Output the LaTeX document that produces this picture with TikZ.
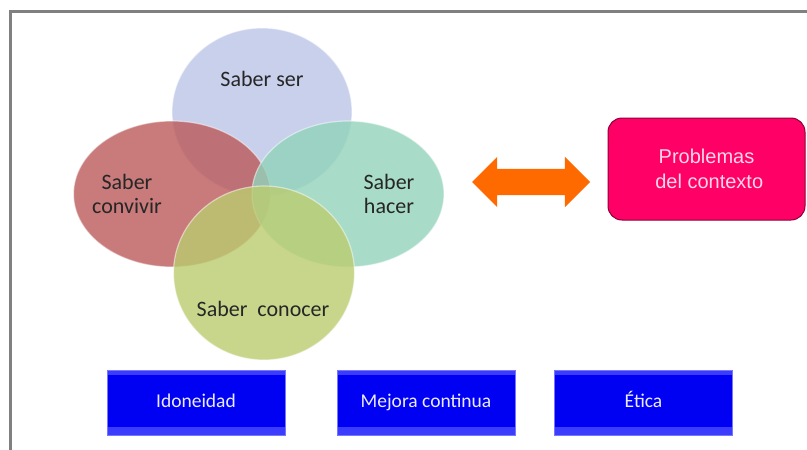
\documentclass[tikz,border=0pt]{standalone}
\usepackage{fontspec}
\setmainfont{Carlito}
\newfontfamily\arialfont{Liberation Sans}
\usetikzlibrary{shapes.geometric,shapes.arrows}
\definecolor{framegray}{RGB}{128,128,128}
\definecolor{serblue}{RGB}{186,196,231}
\definecolor{convivred}{RGB}{187,89,89}
\definecolor{haceteal}{RGB}{146,211,186}
\definecolor{conocergreen}{RGB}{186,204,111}
\definecolor{arroworange}{RGB}{255,106,0}
\definecolor{problempink}{RGB}{255,0,102}
\definecolor{problemtext}{RGB}{255,215,230}
\definecolor{boxblue}{RGB}{0,0,242}
\definecolor{boxbevel}{RGB}{60,60,255}
\begin{document}
\begin{tikzpicture}[x=1pt, y=-1pt, node distance = 230pt, auto,
    venn/.style = {ellipse, fill opacity=0.8, draw=white, draw opacity=0.5, line width=1.2pt, inner sep=0pt},
    venntext/.style = {text=black!85, align=center, font=\fontsize{22}{24}\selectfont},
    bluebox/.style = {rectangle, fill=boxblue, draw=boxbevel!70!white, line width=0.8pt,
        minimum width=178pt, minimum height=65pt, text=blue!8!white,
        text height=13pt, text depth=4pt,
        font=\fontsize{19.5}{22}\selectfont,
        path picture={
            \fill[boxbevel] (path picture bounding box.north west) rectangle ([yshift=-5pt]path picture bounding box.north east);
            \fill[boxbevel] ([yshift=8pt]path picture bounding box.south west) rectangle (path picture bounding box.south east);
            \fill[boxblue] ([xshift=5pt,yshift=-5pt]path picture bounding box.north west) rectangle ([xshift=-5pt,yshift=8pt]path picture bounding box.south east);
        }}]
    \useasboundingbox (0,0) rectangle (807,450);
    \draw[framegray, line width=3pt] (10,450) -- (10,11) -- (807,11);

    \node (SaberSer) [venn, fill=serblue, minimum width=180pt, minimum height=168pt] at (262,112) {};
    \node (SaberConvivir) [venn, fill=convivred, minimum width=197pt, minimum height=146pt] at (172,194) {};
    \node (SaberHacer) [venn, fill=haceteal, minimum width=192pt, minimum height=146pt] at (348,194) {};
    \node (SaberConocer) [venn, fill=conocergreen, minimum width=181pt, minimum height=174pt] at (264,273) {};

    \node (SerText) [venntext] at (262,79) {Saber ser};
    \node (ConvivirText) [venntext] at (127,194) {Saber\\convivir};
    \node (HacerText) [venntext] at (389,194) {Saber\\hacer};
    \node (ConocerText) [venntext] at (263,309) {Saber\ \ conocer};

    \node (Arrow) [double arrow, fill=arroworange, minimum height=118pt, inner xsep=0pt, inner ysep=13pt,
        double arrow head extend=12pt, double arrow head indent=0pt] at (531,182) {};
    \node (Problemas) [rectangle, rounded corners=14pt, fill=problempink, draw=problempink!55!black, line width=1pt,
        minimum width=197pt, minimum height=102pt, text=problemtext, align=center,
        font=\arialfont\fontsize{20}{25}\selectfont] at (706.5,169) {Problemas\\\ del contexto};

    \node (Idoneidad) [bluebox] at (196,402.5) {Idoneidad};
    \node (MejoraContinua) [bluebox, right of = Idoneidad] {Mejora continua};
    \node (Etica) [bluebox, node distance = 217.5pt, right of = MejoraContinua] {Ética};
\end{tikzpicture}
\end{document}
